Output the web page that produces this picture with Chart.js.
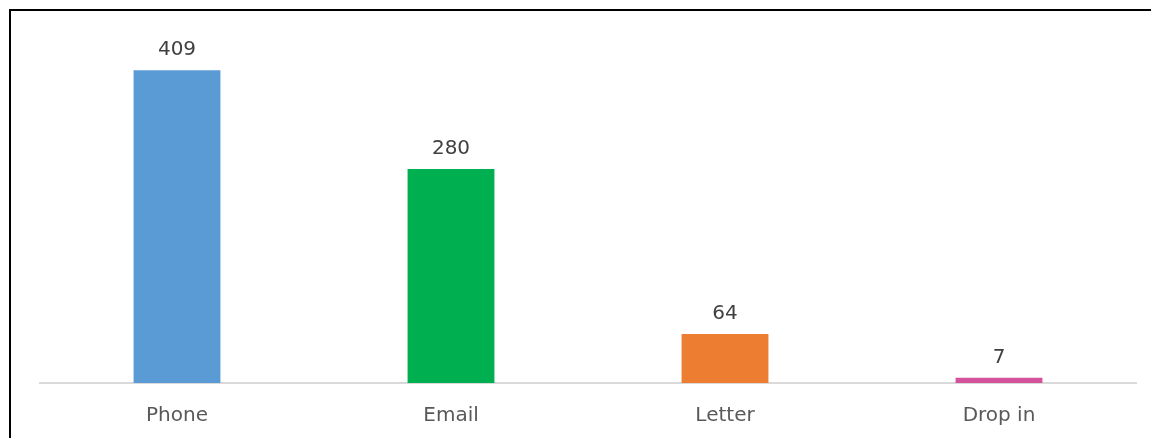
<!DOCTYPE html>
<html>
<head>
<meta charset="utf-8">
<script src="https://cdn.jsdelivr.net/npm/chart.js@4/dist/chart.umd.min.js"></script>
<style>
    html, body { margin: 0; padding: 0; background: #fff; overflow: hidden; }
    #moldura {
        position: absolute; left: 9px; top: 9px; width: 1200px; height: 500px;
        border-left: 2px solid #000; border-top: 2px solid #000;
    }
    #caixa { position: absolute; left: 0; top: 0; width: 1151px; height: 449px; }
</style>
</head>
<body>
<div id="moldura"></div>
<div id="caixa"><canvas id="grafico"></canvas></div>
<script>
const categorias = ["Phone", "Email", "Letter", "Drop in"];
const valores = [409, 280, 64, 7];
const cores = ["#5B9BD5", "#00B050", "#ED7D31", "#D4519B"];
const fonte = "'DejaVu Sans'";

// escreve o valor acima de cada barra
const rotulosValor = {
    id: "rotulosValor",
    afterDatasetsDraw(chart) {
        const ctx = chart.ctx;
        const meta = chart.getDatasetMeta(0);
        ctx.save();
        ctx.font = "20px " + fonte;
        ctx.fillStyle = "#404040";
        ctx.textAlign = "center";
        ctx.textBaseline = "alphabetic";
        meta.data.forEach((barra, i) => {
            ctx.fillText(String(valores[i]), barra.x, barra.y - 15);
        });
        ctx.restore();
    }
};

new Chart(document.getElementById("grafico"), {
    type: "bar",
    data: {
        labels: categorias,
        datasets: [{
            data: valores,
            backgroundColor: cores,
            borderWidth: 0,
            categoryPercentage: 1,
            barPercentage: 0.317
        }]
    },
    options: {
        responsive: true,
        maintainAspectRatio: false,
        animation: false,
        layout: { padding: { left: 40, right: 15, top: 39, bottom: 0 } },
        plugins: {
            legend: { display: false },
            tooltip: { enabled: false }
        },
        scales: {
            x: {
                grid: { display: false, drawTicks: false },
                border: { color: "#D9D9D9", width: 2 },
                ticks: {
                    color: "#595959",
                    font: { family: fonte, size: 20 },
                    padding: 21
                }
            },
            y: {
                display: false,
                min: 0,
                max: 450
            }
        }
    },
    plugins: [rotulosValor]
});
</script>
</body>
</html>
